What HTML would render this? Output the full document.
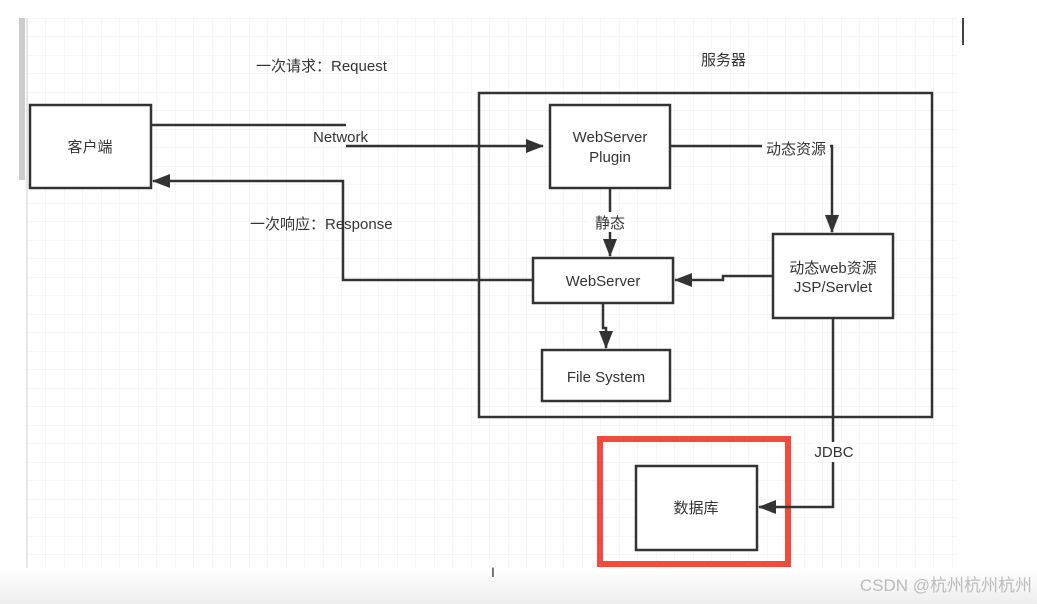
<!DOCTYPE html>
<html><head><meta charset="utf-8"><style>
html,body{margin:0;padding:0;width:1037px;height:604px;overflow:hidden;background:#fff;}
svg text{font-family:"Liberation Sans","Noto Sans CJK SC",sans-serif;fill:#333;}
</style></head><body>
<svg width="1037" height="604" viewBox="0 0 1037 604">
<defs>
<pattern id="g" x="27" y="18" width="18.5" height="18.5" patternUnits="userSpaceOnUse">
<path d="M0 0V18.5M0 0H18.5" stroke="#ececec" stroke-width="1" fill="none"/>
</pattern>
<linearGradient id="bt" x1="0" y1="0" x2="0" y2="1"><stop offset="0" stop-color="#fff"/><stop offset="1" stop-color="#eeeeee"/></linearGradient>
<marker id="a" markerWidth="10" markerHeight="10" refX="9" refY="5" orient="auto" markerUnits="userSpaceOnUse"><path d="M0,0 L10,5 L0,10 z" fill="#333"/></marker>
<marker id="b" markerWidth="18" markerHeight="14" refX="17" refY="7" orient="auto" markerUnits="userSpaceOnUse"><path d="M0,0 L18,7 L0,14 z" fill="#333"/></marker>
</defs>
<rect x="27" y="18" width="930" height="550" fill="url(#g)"/>
<rect x="0" y="568" width="1037" height="36" fill="url(#bt)"/>
<rect x="19" y="18" width="6" height="162" fill="#ccc"/>
<line x1="27" y1="18" x2="27" y2="568" stroke="#ccc"/>
<line x1="963" y1="18" x2="963" y2="45" stroke="#444" stroke-width="2"/>
<g fill="#fff" stroke="#333" stroke-width="2.5">
<rect x="479" y="93" width="453" height="324" fill="none"/>
<rect x="30" y="105" width="121" height="83"/>
<rect x="550" y="105" width="120" height="83"/>
<rect x="533" y="258" width="140" height="45"/>
<rect x="542" y="350" width="128" height="51"/>
<rect x="773" y="234" width="120" height="84"/>
<rect x="636" y="466" width="121" height="84"/>
</g>
<rect x="600" y="439" width="188" height="125" fill="none" stroke="#f44a3b" stroke-width="6"/>
<g fill="none" stroke="#333" stroke-width="2.5">
<path d="M151 125H346"/>
<path d="M346 146H543" marker-end="url(#b)"/>
<path d="M533 280H343V181H153" marker-end="url(#b)"/>
<path d="M670 146H832V232" marker-end="url(#b)"/>
<path d="M610 188V256" marker-end="url(#b)"/>
<path d="M773 276H723V280H675" marker-end="url(#b)"/>
<path d="M603 303V328H606V348" marker-end="url(#b)"/>
<path d="M833 318V507H759" marker-end="url(#b)"/>
</g>
<g font-size="15">
<text x="90" y="152" text-anchor="middle">客户端</text>
<text x="610" y="142" text-anchor="middle">WebServer</text>
<text x="610" y="162" text-anchor="middle">Plugin</text>
<text x="603" y="286" text-anchor="middle">WebServer</text>
<text x="606" y="382" text-anchor="middle">File System</text>
<text x="833" y="273" text-anchor="middle">动态web资源</text>
<text x="833" y="292" text-anchor="middle">JSP/Servlet</text>
<text x="696" y="513" text-anchor="middle">数据库</text>
</g>
<g font-size="15">
<text x="256" y="71">一次请求：Request</text>
<text x="313" y="142">Network</text>
<text x="250" y="229">一次响应：Response</text>
<text x="701" y="65">服务器</text>
<rect x="590" y="212" width="40" height="20" fill="#fff"/>
<text x="610" y="228" text-anchor="middle">静态</text>
<rect x="762" y="138" width="68" height="20" fill="#fff"/>
<text x="796" y="154" text-anchor="middle">动态资源</text>
<rect x="812" y="442" width="44" height="20" fill="#fff"/>
<text x="834" y="457" text-anchor="middle">JDBC</text>
</g>
<text x="491" y="577" font-size="14">I</text>
<text x="1032" y="591" font-size="17" text-anchor="end" style="fill:#bbb">CSDN @杭州杭州杭州</text>
</svg>
</body></html>
